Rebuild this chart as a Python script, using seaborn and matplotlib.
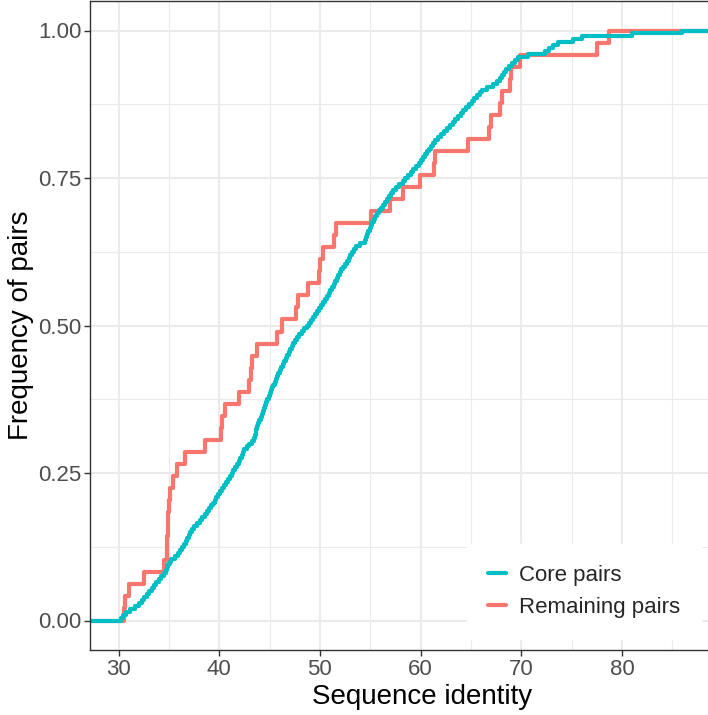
import numpy as np
import pandas as pd
import matplotlib.pyplot as plt
import seaborn as sns
from matplotlib.ticker import MultipleLocator, FormatStrFormatter

# --- Data (sequence identity values) ---
core_identity = [
    30.2, 30.4, 30.71, 31.1, 31.68, 32.05, 32.35, 32.58, 32.81, 33.04,
    33.28, 33.51, 33.75, 34.0, 34.25, 34.47, 34.68, 34.85, 34.96, 35.08,
    35.2, 35.58, 35.88, 36.08, 36.28, 36.48, 36.66, 36.82, 36.98, 37.14,
    37.3, 37.51, 37.8, 38.09, 38.34, 38.56, 38.79, 39.02, 39.23, 39.4,
    39.56, 39.72, 39.89, 40.05, 40.25, 40.45, 40.64, 40.84, 41.04, 41.23,
    41.41, 41.6, 41.79, 41.95, 42.09, 42.23, 42.36, 42.5, 42.75, 43.0,
    43.25, 43.41, 43.51, 43.61, 43.7, 43.8, 43.9, 44.0, 44.11, 44.23,
    44.34, 44.45, 44.56, 44.68, 44.79, 44.9, 45.02, 45.14, 45.27, 45.39,
    45.51, 45.63, 45.76, 45.88, 46.0, 46.15, 46.29, 46.44, 46.59, 46.74,
    46.88, 47.03, 47.18, 47.34, 47.5, 47.7, 47.94, 48.18, 48.43, 48.67,
    48.91, 49.12, 49.32, 49.52, 49.73, 49.93, 50.13, 50.33, 50.52, 50.7,
    50.87, 51.03, 51.19, 51.35, 51.51, 51.66, 51.82, 51.98, 52.13, 52.3,
    52.48, 52.66, 52.84, 53.02, 53.2, 53.38, 53.56, 54.0, 54.43, 54.55,
    54.68, 54.81, 54.94, 55.07, 55.19, 55.32, 55.48, 55.67, 55.86, 56.05,
    56.25, 56.44, 56.63, 56.82, 57.01, 57.29, 57.6, 57.9, 58.2, 58.47,
    58.73, 59.0, 59.26, 59.53, 59.8, 60.01, 60.2, 60.4, 60.6, 60.79,
    60.99, 61.18, 61.42, 61.72, 62.02, 62.31, 62.61, 62.91, 63.2, 63.46,
    63.72, 63.98, 64.24, 64.5, 64.77, 65.06, 65.34, 65.61, 65.88, 66.14,
    66.57, 67.19, 67.63, 67.9, 68.07, 68.25, 68.46, 68.78, 69.1, 69.4,
    69.69, 70.7, 72.32, 72.7, 73.15, 73.6, 75.17, 76.0, 81.0, 86.0,
]
remaining_identity = [
    30.5, 30.6, 31.0, 32.5, 34.5, 34.8, 34.8, 34.9, 34.9, 35.0,
    35.1, 35.4, 35.8, 36.6, 38.6, 40.2, 40.3, 40.6, 42.0, 43.0,
    43.2, 43.3, 43.8, 45.7, 46.2, 47.6, 47.8, 48.8, 49.9, 50.0,
    50.3, 51.4, 51.6, 55.1, 57.0, 58.2, 59.9, 61.3, 61.4, 64.7,
    66.8, 67.0, 67.9, 68.1, 68.9, 69.0, 69.9, 77.5, 78.7,
]
groups = ["Core pairs", "Remaining pairs"]
colors = {"Core pairs": "#00BFC4", "Remaining pairs": "#F8766D"}
x_ticks = [30, 40, 50, 60, 70, 80]
y_ticks = [0.0, 0.25, 0.50, 0.75, 1.00]

df = pd.concat([
    pd.DataFrame({"identity": core_identity, "group": "Core pairs"}),
    pd.DataFrame({"identity": remaining_identity, "group": "Remaining pairs"}),
], ignore_index=True)

sns.set_theme(style="white")
plt.rcParams['font.family'] = ['Liberation Sans', 'DejaVu Sans']

fig = plt.figure(figsize=(7.08, 7.15), dpi=100)
# panel runs past the right edge of the picture (cropped like the original)
ax = fig.add_axes([90 / 708, 65 / 715, 664 / 708, 649 / 715])

# red first so the teal curve sits on top
for g in reversed(groups):
    sns.ecdfplot(data=df[df["group"] == g], x="identity", color=colors[g],
                 linewidth=3.0, label=g, ax=ax,
                 solid_joinstyle="round", solid_capstyle="round")

ax.set_xlim(27.17, 93.1)
ax.set_ylim(-0.05, 1.05)

# pad the step lines out to the panel edges like ggplot's stat_ecdf
xmin, xmax = ax.get_xlim()
for line in ax.lines:
    x, y = line.get_data()
    x = np.where(np.isinf(x), xmin, x)
    line.set_data(np.r_[x, xmax], np.r_[y, 1.0])

ax.set_xticks(x_ticks)
ax.set_yticks(y_ticks)
ax.xaxis.set_minor_locator(MultipleLocator(5))
ax.yaxis.set_minor_locator(MultipleLocator(0.125))
ax.yaxis.set_major_formatter(FormatStrFormatter("%.2f"))

ax.grid(True, which="major", color="#EBEBEB", linewidth=1.5)
ax.grid(True, which="minor", color="#EBEBEB", linewidth=0.8)
ax.set_axisbelow(True)

ax.tick_params(which="major", direction="out", length=4.3, width=1,
               color="#333333", labelcolor="#4D4D4D", labelsize=16, pad=2,
               bottom=True, left=True)
ax.tick_params(which="minor", length=0)
for s in ax.spines.values():
    s.set_color("#333333")
    s.set_linewidth(1.0)

ax.set_xlabel("Sequence identity", fontsize=20, color="black", labelpad=3)
ax.set_ylabel("Frequency of pairs", fontsize=20, color="black", labelpad=3)

handles, labels = ax.get_legend_handles_labels()
order = [labels.index(g) for g in groups]
leg = ax.legend([handles[i] for i in order], [labels[i] for i in order],
                loc="lower left", bbox_to_anchor=(467 / 708, 76 / 715),
                bbox_transform=fig.transFigure,
                fontsize=16, frameon=True, fancybox=False,
                borderaxespad=0, borderpad=0.95, handlelength=0.8,
                handletextpad=0.6, labelspacing=0.5)
leg.get_frame().set_facecolor("white")
leg.get_frame().set_edgecolor("white")
leg.get_frame().set_alpha(1.0)

fig.savefig("out.png", dpi=100)
